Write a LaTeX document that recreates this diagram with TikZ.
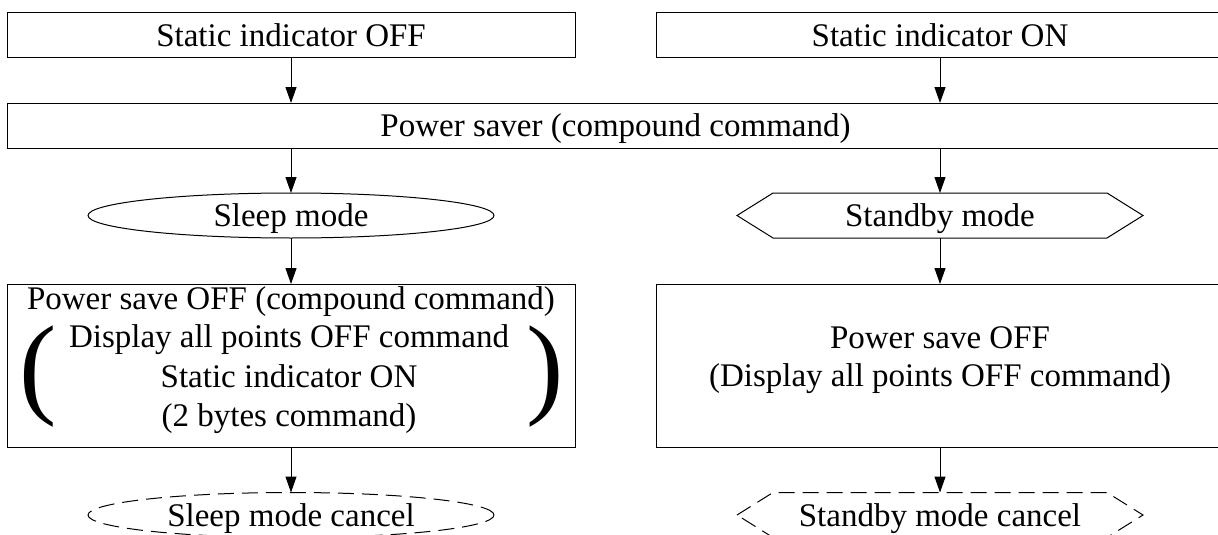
\documentclass[tikz,border=0pt]{standalone}
\usepackage{fontspec}
\setmainfont{Liberation Serif}
\usetikzlibrary{arrows.meta,shapes.geometric}
\begin{document}
\begin{tikzpicture}[x=1pt,y=-1pt,
  every node/.style={font=\fontsize{33}{38}\selectfont, inner sep=0pt, outer sep=0pt},
  lbl/.style={text height=22pt, text depth=0pt},
  boxn/.style={draw, line width=1pt, rectangle, minimum height=45pt, lbl},
  bigbox/.style={draw, line width=1pt, rectangle, minimum width=568pt, minimum height=163pt},
  ell/.style={draw, line width=1pt, ellipse, minimum width=406pt, minimum height=45pt, lbl},
  hexn/.style={rectangle, minimum width=406pt, minimum height=45pt, lbl},
  hexline/.style={line width=1pt, line join=miter},
  dashline/.style={dash pattern=on 16pt off 8pt},
  txt/.style={anchor=base},
  paren/.style={anchor=base, font=\fontsize{112}{112}\selectfont},
  flow/.style={-{Triangle[length=16pt,width=11pt]}, line width=1pt},
]
\useasboundingbox (0,0) rectangle (1218,535);
\clip (0,0) rectangle (1218,535);

% top row
\node[boxn, minimum width=568pt] (soff) at (291,35.2) {Static indicator OFF};
\node[boxn, minimum width=568pt] (son) at (940,35.2) {Static indicator ON};

% power saver
\node[boxn, minimum width=1217pt] (ps) at (615.5,125.5) {Power saver (compound command)};

% modes
\node[ell] (sleep) at (291,215.5) {Sleep mode};
\node[hexn] (stby) at (940,215.5) {Standby mode};
\draw[hexline] (stby.west) -- ([xshift=36pt]stby.north west) -- ([xshift=-36pt]stby.north east)
  -- (stby.east) -- ([xshift=-36pt]stby.south east) -- ([xshift=36pt]stby.south west) -- cycle;

% left big box
\node[bigbox] (pso) at (291,365.5) {};
\node[txt] (pso1) at (291,309) {Power save OFF (compound command)};
\node[txt] (pso2) at (289,347) {Display all points OFF command};
\node[txt] (pso3) at (289,387) {Static indicator ON};
\node[txt] (pso4) at (289,426) {(2 bytes command)};
\node[paren] (lp) at (38,403) {(};
\node[paren] (rp) at (545,403) {)};

% right big box
\node[bigbox] (psr) at (940,365.5) {};
\node[txt] (psr1) at (940,348) {Power save OFF};
\node[txt] (psr2) at (940,386) {(Display all points OFF command)};

% cancel nodes
\node[ell, dashline] (sleepc) at (291,515) {Sleep mode cancel};
\node[hexn] (stbyc) at (940,515) {Standby mode cancel};
\draw[hexline, dashline] (stbyc.west) -- ([xshift=36pt]stbyc.north west) -- ([xshift=-36pt]stbyc.north east)
  -- (stbyc.east) -- ([xshift=-36pt]stbyc.south east) -- ([xshift=36pt]stbyc.south west) -- cycle;

% connectors
\draw[flow] (soff.south) -- (soff.south |- ps.north);
\draw[flow] (son.south) -- (son.south |- ps.north);
\draw[flow] (sleep.north |- ps.south) -- (sleep.north);
\draw[flow] (stby.north |- ps.south) -- (stby.north);
\draw[flow] (sleep.south) -- (pso.north);
\draw[flow] (stby.south) -- (psr.north);
\draw[flow] (pso.south) -- (sleepc.north);
\draw[flow] (psr.south) -- (stbyc.north);
\end{tikzpicture}
\end{document}
